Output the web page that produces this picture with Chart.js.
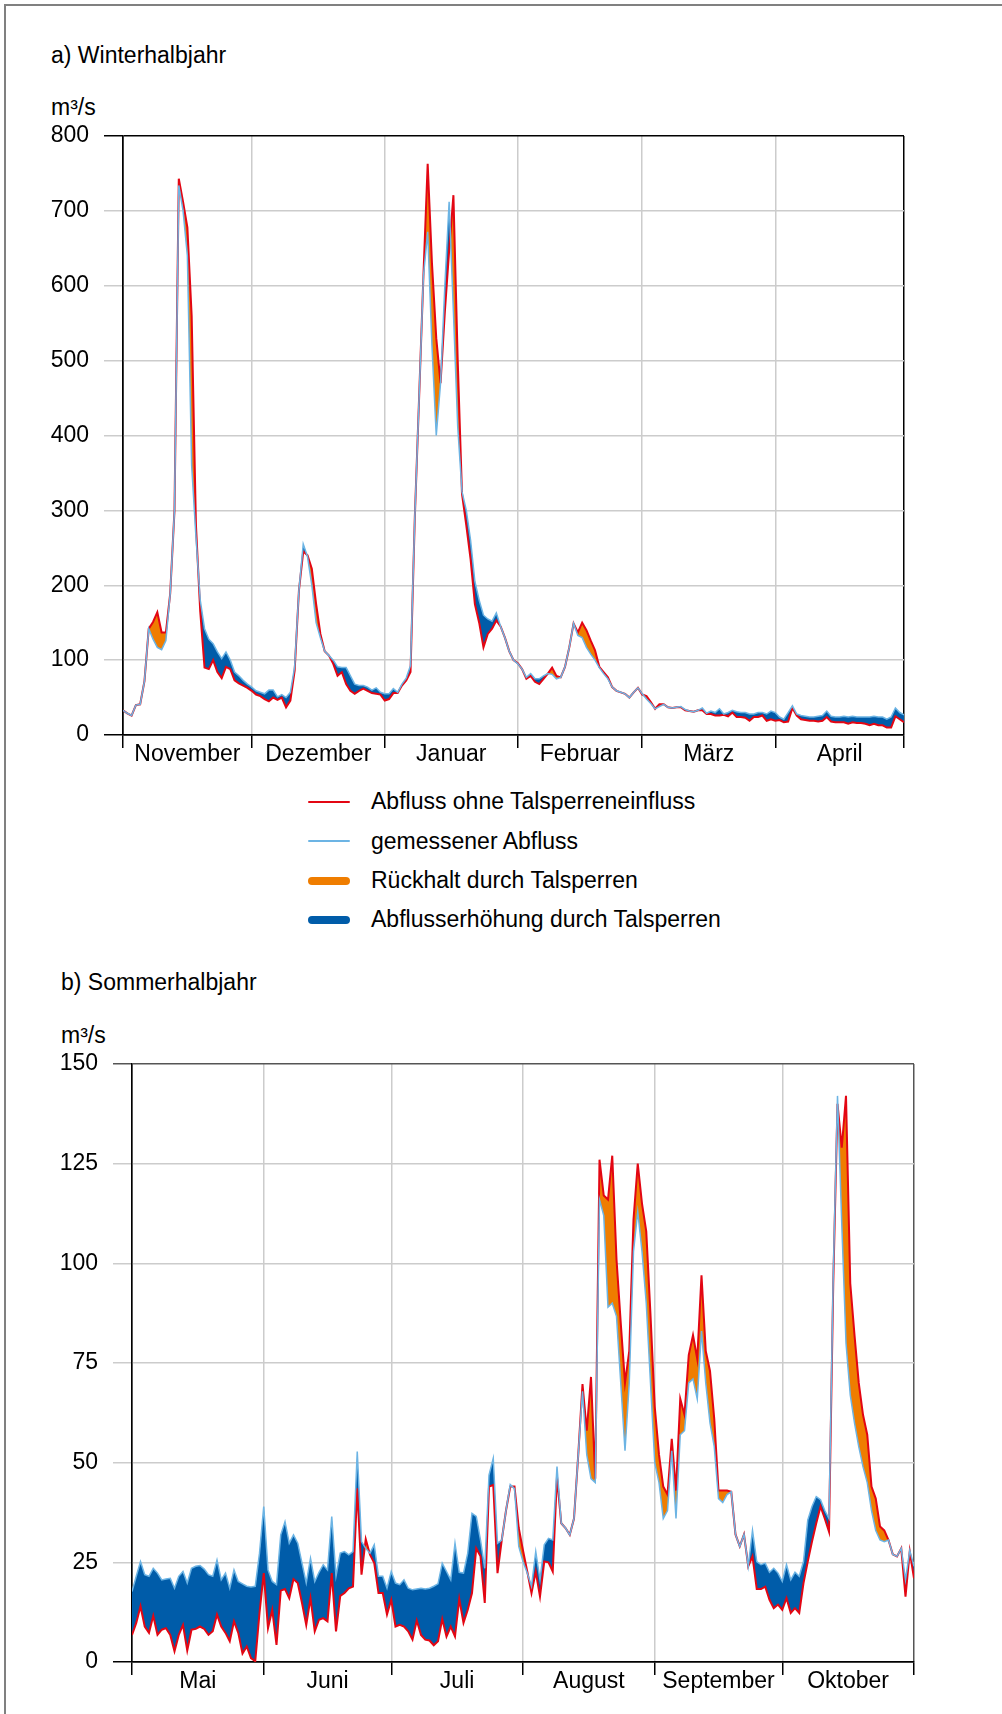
<!DOCTYPE html>
<html lang="de">
<head>
<meta charset="utf-8">
<script src="https://cdn.jsdelivr.net/npm/chart.js@4.4.0/dist/chart.umd.min.js"></script>
<style>
    html, body { margin: 0; padding: 0; background: #fff; }
    body {
        width: 1002px; height: 1714px; position: relative; overflow: hidden;
        font-family: "Liberation Sans", Arial, sans-serif; color: #000;
    }
    .frame {
        position: absolute; left: 4px; top: 4px; width: 1010px; height: 1720px;
        border-top: 2px solid #808080; border-left: 2px solid #808080;
    }
    .txt { position: absolute; font-size: 23px; line-height: 23px; white-space: nowrap; }
    canvas { position: absolute; left: 0; }
    .legend-row { position: absolute; left: 300px; height: 23px; width: 560px; }
    .legend-row .swatch { position: absolute; left: 8px; width: 42px; }
    .legend-row .label { position: absolute; left: 71px; top: 0; font-size: 23px; line-height: 23px; white-space: nowrap; }
</style>
</head>
<body>
<div class="frame"></div>

<div class="txt" style="left:51px; top:43.5px;">a) Winterhalbjahr</div>
<div class="txt" style="left:51px; top:95.5px;">m³/s</div>
<canvas id="winter-chart" width="1002" height="660" style="top:120px;"></canvas>

<div id="legend"></div>

<div class="txt" style="left:61px; top:970.5px;">b) Sommerhalbjahr</div>
<div class="txt" style="left:61px; top:1023.5px;">m³/s</div>
<canvas id="sommer-chart" width="1002" height="666" style="top:1048px;"></canvas>

<script>
// Winterhalbjahr (Nov - Apr), daily values in m³/s
const winterMonths = ['November', 'Dezember', 'Januar', 'Februar', 'März', 'April'];
const winterMonthDays = [30, 31, 31, 29, 31, 30];
const winterYTicks = [0, 100, 200, 300, 400, 500, 600, 700, 800];
const winterOhne = [
    33, 29, 26, 40, 41, 72, 142, 151, 164, 137, 137,
    189, 300, 743, 712, 678, 560, 280, 165, 90, 88,
    100, 84, 76, 91, 88, 73, 69, 66, 63, 59,
    54, 52, 48, 45, 50, 47, 50, 37, 46, 86,
    193, 245, 240, 222, 175, 135, 112, 106, 95, 79,
    84, 68, 59, 55, 59, 62, 59, 56, 55, 54,
    46, 48, 56, 56, 66, 73, 84, 290, 450, 612,
    763, 630, 530, 470, 565, 647, 721, 500, 322, 280,
    235, 175, 150, 117, 135, 142, 153, 145, 130, 112,
    100, 96, 88, 75, 79, 71, 68, 75, 82, 90,
    79, 77, 91, 117, 149, 137, 150, 140, 126, 113,
    91, 84, 77, 64, 59, 57, 55, 50, 57, 63,
    54, 52, 44, 35, 41, 41, 37, 36, 37, 37,
    33, 32, 31, 33, 33, 28, 28, 26, 26, 27,
    25, 30, 24, 24, 23, 19, 24, 24, 26, 19,
    21, 19, 20, 17, 18, 36, 26, 21, 20, 19,
    19, 18, 19, 24, 18, 17, 17, 17, 15, 17,
    16, 16, 15, 13, 15, 13, 13, 10, 10, 25, 21, 17
];
const winterGemessen = [
    33, 29, 26, 40, 41, 72, 142, 128, 117, 114, 126,
    189, 300, 734, 700, 640, 360, 265, 180, 142, 128,
    122, 111, 102, 111, 100, 84, 79, 73, 68, 64,
    59, 57, 55, 60, 60, 51, 54, 50, 57, 91,
    193, 255, 238, 200, 150, 130, 112, 106, 100, 91,
    90, 90, 79, 68, 66, 66, 64, 60, 63, 57,
    55, 55, 62, 57, 68, 76, 93, 290, 450, 612,
    672, 520, 400, 470, 600, 712, 565, 412, 325, 300,
    260, 205, 180, 160, 155, 152, 163, 145, 130, 112,
    100, 95, 88, 77, 82, 75, 75, 79, 82, 81,
    75, 77, 91, 117, 149, 133, 130, 117, 108, 100,
    90, 82, 75, 64, 59, 57, 55, 50, 57, 63,
    55, 48, 42, 35, 38, 41, 37, 36, 37, 38,
    34, 32, 31, 33, 36, 29, 32, 30, 35, 28,
    30, 33, 31, 30, 30, 28, 28, 30, 30, 28,
    32, 30, 24, 21, 30, 39, 28, 26, 25, 24,
    24, 25, 26, 32, 25, 24, 24, 25, 24, 25,
    24, 24, 24, 24, 25, 24, 24, 21, 24, 36, 30, 27
];

// Sommerhalbjahr (Mai - Okt)
const sommerMonths = ['Mai', 'Juni', 'Juli', 'August', 'September', 'Oktober'];
const sommerMonthDays = [31, 30, 31, 31, 30, 31];
const sommerYTicks = [0, 25, 50, 75, 100, 125, 150];
const sommerOhne = [
    6.8, 9.8, 14, 8.9, 7.3, 11.6, 6.8, 8.1, 8.5, 6.8, 2.7,
    6.8, 9.3, 2.9, 8.1, 8.3, 8.9, 8.3, 6.8, 7.7, 11.9,
    8.9, 7.3, 5.2, 10.2, 7.3, 2.1, 3.9, 1, 0.2, 12.3,
    22.3, 8.5, 13.1, 4.3, 17.9, 18.3, 16, 20.8, 19.8, 14.8,
    9.3, 16, 7.7, 10.6, 11, 10.2, 22.3, 7.7, 16.6, 17.3,
    18.5, 18.9, 43.6, 21.9, 30.8, 26.9, 24.8, 17.3, 17.3, 11.9,
    15.6, 8.9, 9.3, 8.9, 7.7, 5.6, 10.4, 6.8, 5.6, 5.4,
    4.2, 5.2, 10.8, 6.4, 8.9, 6.4, 15.8, 9.8, 13.1, 17.3,
    28.5, 26.5, 14.8, 44, 44.4, 22.3, 30.6, 38, 44, 44,
    33.6, 28, 22.7, 17.3, 22.7, 16.4, 25.2, 25, 22.7, 46.5,
    34.8, 33.6, 31.9, 36, 52, 69.7, 58, 71.5, 46, 126,
    117, 116, 127, 101, 85, 70, 78, 111, 125, 115,
    108, 87, 64, 52, 44, 42, 56, 43, 66, 62,
    77, 82, 76, 97, 78, 73, 61, 43, 43, 43,
    42.7, 32, 29, 32, 24, 26.5, 18.3, 18.3, 18.9, 15.6,
    13.5, 14.4, 13.1, 16, 12.3, 13.5, 12.3, 19.8, 25.2, 30.2,
    34.8, 39, 36, 32.7, 95, 140, 129, 142, 95, 82,
    70, 62, 57, 44, 41, 34, 33, 30.6, 27, 26.5,
    28.5, 16.4, 27.7, 21
];
const sommerGemessen = [
    17.7, 21.5, 25.2, 21.9, 21.5, 23.5, 22.3, 20.6, 20.8, 21, 18.5,
    21.5, 22.7, 19.8, 23.5, 24, 24.2, 23.3, 21.9, 21.5, 25.6,
    20.6, 22.3, 18.5, 23.1, 20.2, 19.6, 19, 18.8, 19, 27.3,
    39, 23.1, 20.2, 19.4, 31.9, 35.2, 29.8, 31.9, 29.8, 24.8,
    19.8, 26, 20.2, 22.5, 24.4, 23.1, 36.5, 21.5, 27.3, 27.7,
    26.9, 27.7, 52.8, 30.2, 28.5, 27.3, 29.4, 21.5, 21.5, 18.5,
    22.7, 19.8, 19.4, 20.6, 18.5, 18.1, 18.3, 18.5, 18.3, 18.5,
    19, 19.6, 24.8, 22.7, 20.6, 29.8, 22.5, 22.3, 27.3, 37.3,
    36.5, 30.6, 23.5, 46.9, 51.1, 29.8, 30.6, 38, 44.5, 43.5,
    29, 25.2, 22.3, 19, 27.7, 20.6, 29.4, 31, 30.6, 49,
    34.8, 33.6, 31.9, 36, 52, 67.9, 52, 46, 45, 116,
    112, 89, 90, 86.7, 70, 53, 70, 103, 113, 103,
    90, 70, 50, 45, 36, 38, 53, 36, 57, 58,
    70, 71, 66, 83, 70, 60, 54, 41, 40, 42,
    42.7, 32, 29, 32, 24, 33, 25.2, 24.4, 24.8, 22.5,
    23.5, 22.3, 20.2, 24.4, 20.6, 22.5, 21.5, 25.2, 35.6, 39,
    41.5, 40.7, 38, 36, 97, 142, 110, 80, 67, 60,
    54, 49, 45, 38, 33, 30.6, 30.2, 30.6, 27, 26.5,
    28.5, 20.6, 28, 24
];

const legendLabels = [
    'Abfluss ohne Talsperreneinfluss',
    'gemessener Abfluss',
    'Rückhalt durch Talsperren',
    'Abflusserhöhung durch Talsperren'
];

const RED = '#e30613';
const LIGHT_BLUE = '#6cb4e4';
const ORANGE = '#ef7d00';
const DARK_BLUE = '#005ca9';
const GRID = '#cccccc';

Chart.defaults.font.family = '"Liberation Sans", Arial, sans-serif';
Chart.defaults.font.size = 23;
Chart.defaults.color = '#000';

function monthBounds(days) {
    const out = [0];
    let acc = 0;
    days.forEach(d => { acc += d; out.push(acc); });
    return out;
}

function buildChart(canvasId, cfg) {
    const ctx = document.getElementById(canvasId).getContext('2d');
    const bounds = monthBounds(cfg.monthDays);
    const mids = cfg.monthDays.map((d, i) => bounds[i] + d / 2);
    const xMax = bounds[bounds.length - 1];
    const yMax = cfg.yTicks[cfg.yTicks.length - 1];
    const isBound = v => bounds.indexOf(v) >= 0;

    return new Chart(ctx, {
        type: 'line',
        data: {
            datasets: [{
                label: legendLabels[0],
                data: cfg.ohne.map((v, i) => ({ x: i, y: v })),
                borderColor: RED,
                borderWidth: 2,
                pointRadius: 0,
                tension: 0,
                fill: false,
                order: 1
            }, {
                label: legendLabels[1],
                data: cfg.gemessen.map((v, i) => ({ x: i, y: v })),
                borderColor: LIGHT_BLUE,
                borderWidth: 1.5,
                pointRadius: 0,
                tension: 0,
                fill: { target: 0, above: DARK_BLUE, below: ORANGE },
                order: 0
            }]
        },
        options: {
            responsive: false,
            animation: false,
            devicePixelRatio: 1,
            layout: {
                padding: { left: 0, top: 16, right: cfg.padRight, bottom: 0 }
            },
            plugins: {
                legend: { display: false },
                tooltip: { enabled: false },
                filler: { drawTime: 'beforeDatasetsDraw' }
            },
            scales: {
                x: {
                    type: 'linear',
                    min: 0,
                    max: xMax,
                    afterBuildTicks: scale => {
                        scale.ticks = bounds.concat(mids).map(v => ({ value: v }));
                    },
                    afterFit: scale => {
                        scale.height = cfg.xHeight;
                        scale.paddingLeft = 0;
                        scale.paddingRight = 0;
                    },
                    ticks: {
                        autoSkip: false,
                        maxRotation: 0,
                        padding: -7,
                        callback: value => {
                            const k = mids.indexOf(value);
                            return k >= 0 ? cfg.months[k] : '';
                        }
                    },
                    grid: {
                        color: c => {
                            const v = c.tick.value;
                            if (!isBound(v)) return 'rgba(0,0,0,0)';
                            if (v === 0 || v === xMax) return cfg.frameColor;
                            return GRID;
                        },
                        tickColor: c => isBound(c.tick.value) ? '#000' : 'rgba(0,0,0,0)',
                        lineWidth: 1.5,
                        tickLength: 13
                    },
                    border: { color: '#000', width: 1.5 }
                },
                y: {
                    min: 0,
                    max: yMax,
                    afterBuildTicks: scale => {
                        scale.ticks = cfg.yTicks.map(v => ({ value: v }));
                    },
                    afterFit: scale => {
                        scale.width = cfg.yWidth;
                        scale.paddingTop = 0;
                        scale.paddingBottom = 0;
                    },
                    ticks: { padding: 15 },
                    grid: {
                        color: c => {
                            const v = c.tick.value;
                            if (v === yMax) return cfg.frameColor;
                            if (v === 0) return '#000';
                            return GRID;
                        },
                        lineWidth: 1.5,
                        tickLength: 19
                    },
                    border: { color: '#000', width: 1.5 }
                }
            }
        }
    });
}

function buildLegend() {
    const holder = document.getElementById('legend');
    const swatches = [
        { color: RED, height: 2 },
        { color: LIGHT_BLUE, height: 2 },
        { color: ORANGE, height: 8 },
        { color: DARK_BLUE, height: 8 }
    ];
    legendLabels.forEach((text, i) => {
        const row = document.createElement('div');
        row.className = 'legend-row';
        row.style.top = (790.2 + i * 39.4) + 'px';
        const sw = document.createElement('span');
        sw.className = 'swatch';
        sw.style.background = swatches[i].color;
        sw.style.height = swatches[i].height + 'px';
        sw.style.top = (11.5 - swatches[i].height / 2) + 'px';
        sw.style.borderRadius = (swatches[i].height / 2) + 'px';
        const label = document.createElement('span');
        label.className = 'label';
        label.textContent = text;
        row.appendChild(sw);
        row.appendChild(label);
        holder.appendChild(row);
    });
}

const winterChart = buildChart('winter-chart', {
    months: winterMonths,
    monthDays: winterMonthDays,
    yTicks: winterYTicks,
    ohne: winterOhne,
    gemessen: winterGemessen,
    yWidth: 123,
    padRight: 98,
    xHeight: 45,
    frameColor: '#000'
});

const sommerChart = buildChart('sommer-chart', {
    months: sommerMonths,
    monthDays: sommerMonthDays,
    yTicks: sommerYTicks,
    ohne: sommerOhne,
    gemessen: sommerGemessen,
    yWidth: 132,
    padRight: 88,
    xHeight: 52,
    frameColor: '#555'
});

buildLegend();
</script>
</body>
</html>
